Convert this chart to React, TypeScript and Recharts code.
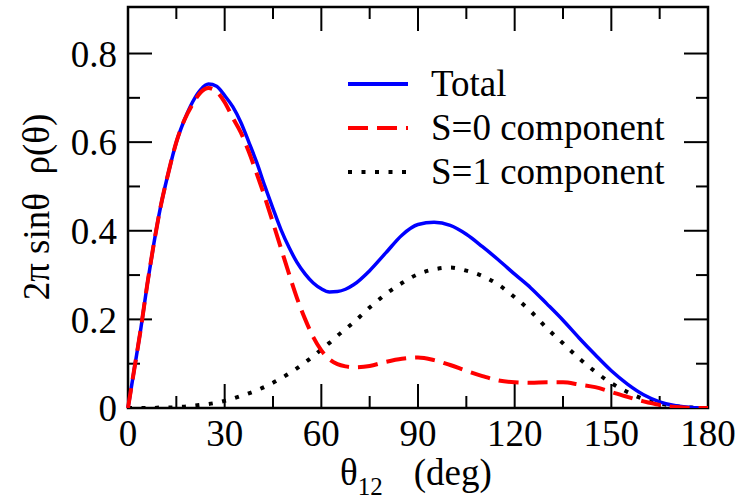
import { LineChart, Line, XAxis, YAxis, ReferenceLine, ReferenceArea } from "recharts"

// angle θ12 in degrees
const theta = [0, 2, 4, 6, 8, 10, 12.5, 15, 17.5, 20, 22.5, 25, 27.5, 30, 32.5, 35, 37.5, 40, 42.5, 45, 47.5, 50, 52.5, 55, 57.5, 60, 62.5, 65, 67.5, 70, 75, 80, 85, 90, 95, 100, 105, 110, 115, 120, 125, 130, 135, 140, 145, 150, 155, 160, 165, 170, 175, 180]

const total = [0, 0.09, 0.18, 0.28, 0.37, 0.45, 0.53, 0.6, 0.65, 0.69, 0.718, 0.731, 0.726, 0.705, 0.68, 0.645, 0.6, 0.553, 0.5, 0.45, 0.402, 0.362, 0.328, 0.302, 0.282, 0.269, 0.262, 0.263, 0.268, 0.278, 0.31, 0.35, 0.39, 0.414, 0.419, 0.412, 0.392, 0.364, 0.334, 0.302, 0.271, 0.235, 0.198, 0.158, 0.12, 0.084, 0.054, 0.03, 0.014, 0.005, 0.001, 0]

const s0 = [0, 0.09, 0.18, 0.28, 0.37, 0.45, 0.53, 0.6, 0.65, 0.685, 0.712, 0.722, 0.714, 0.69, 0.655, 0.622, 0.578, 0.528, 0.475, 0.418, 0.36, 0.302, 0.247, 0.2, 0.16, 0.13, 0.11, 0.099, 0.094, 0.092, 0.095, 0.104, 0.111, 0.114, 0.108, 0.097, 0.084, 0.072, 0.062, 0.058, 0.057, 0.058, 0.058, 0.053, 0.047, 0.036, 0.025, 0.015, 0.007, 0.002, 0, 0]

const s1 = [0, 0, 0, 0, 0, 0.001, 0.001, 0.002, 0.003, 0.005, 0.007, 0.009, 0.012, 0.016, 0.021, 0.027, 0.033, 0.04, 0.048, 0.057, 0.067, 0.078, 0.09, 0.103, 0.117, 0.132, 0.147, 0.163, 0.178, 0.193, 0.227, 0.257, 0.282, 0.302, 0.313, 0.317, 0.31, 0.298, 0.278, 0.25, 0.218, 0.18, 0.146, 0.112, 0.082, 0.056, 0.036, 0.02, 0.01, 0.004, 0.001, 0]

const xMajor = [30, 60, 90, 120, 150]
const xMinor = [15, 45, 75, 105, 135, 165]
const xLabels = [0, 30, 60, 90, 120, 150, 180]
const yMajor = [0.2, 0.4, 0.6, 0.8]
const yMinor = [0.1, 0.3, 0.5, 0.7]
const yLabels = [0, 0.2, 0.4, 0.6, 0.8]

const legendItems = [
  { name: "Total", color: "#0000ff", dash: undefined as string | undefined },
  { name: "S=0 component", color: "#ff0000", dash: "20 9" },
  { name: "S=1 component", color: "#000000", dash: "4 9.5" },
]

const data = theta.map((t, i) => ({ theta: t, total: total[i], s0: s0[i], s1: s1[i] }))

const FONT = "Liberation Serif, Times New Roman, DejaVu Serif, serif"
const FS = 37
const Y_MAX = 0.905
// tick lengths in data units (plot ~580px for 180°, ~401px for 0.905)
const PX_X = 180 / 580
const PX_Y = Y_MAX / 401
const MAJ = 24
const MIN = 12

function LegendBox() {
  return (
    <svg width={360} height={140} style={{ position: "absolute", left: 338, top: 60, fontFamily: FONT }}>
      {legendItems.map((it, i) => (
        <g key={it.name}>
          <line x1={10} x2={70} y1={24 + i * 44} y2={24 + i * 44} stroke={it.color} strokeWidth={4} strokeDasharray={it.dash} />
          <text x={93} y={24 + i * 44} dy="0.33em" fontSize={FS} style={{ fontFamily: FONT }} fill="#000">{it.name}</text>
        </g>
      ))}
    </svg>
  )
}

function XTitle() {
  return (
    <text x={340} y={485} fontSize={FS} style={{ fontFamily: FONT }} fill="#000">
      θ
      <tspan fontSize={25} dy={10}>12</tspan>
      <tspan dy={-10} dx={31}>(deg)</tspan>
    </text>
  )
}

function YTitle() {
  return (
    <text x={0} y={0} transform="translate(49, 207) rotate(-90)" textAnchor="middle" fontSize={37} style={{ fontFamily: FONT, whiteSpace: "pre" }} fill="#000">
      2π sinθ  ρ(θ)
    </text>
  )
}

export default function App() {
  const tickStyle = { fontSize: FS, fill: "#000", fontFamily: FONT, style: { fontFamily: FONT } }
  return (
    <div style={{ position: "absolute", left: 0, top: 0, width: 754, height: 503, background: "#fff", fontFamily: FONT }}>
      <LineChart width={754} height={503} data={data} margin={{ top: 7, right: 46, bottom: 0, left: 0 }} style={{ fontFamily: FONT }}>
        <XAxis
          dataKey="theta"
          type="number"
          domain={[0, 180]}
          ticks={xLabels}
          tickFormatter={(v: number) => String(v)}
          axisLine={false}
          tickLine={false}
          tickSize={0}
          tickMargin={12}
          height={95}
          tick={tickStyle}
          label={{ content: <XTitle /> }}
        />
        <YAxis
          type="number"
          domain={[0, Y_MAX]}
          allowDataOverflow
          ticks={yLabels}
          tickFormatter={(v: number) => String(v)}
          axisLine={false}
          tickLine={false}
          tickSize={0}
          tickMargin={11}
          width={128}
          tick={tickStyle}
          label={{ content: <YTitle /> }}
        />
        <ReferenceArea x1={0} x2={180} y1={0} y2={Y_MAX} fill="none" stroke="#000" strokeWidth={2.5} ifOverflow="visible" />
        {[...xMajor.map((t) => [t, MAJ]), ...xMinor.map((t) => [t, MIN])].map(([t, len]) => [
          <ReferenceLine key={"xb" + t} segment={[{ x: t, y: 0 }, { x: t, y: len * PX_Y }]} stroke="#000" strokeWidth={2} ifOverflow="visible" />,
          <ReferenceLine key={"xt" + t} segment={[{ x: t, y: Y_MAX }, { x: t, y: Y_MAX - len * PX_Y }]} stroke="#000" strokeWidth={2} ifOverflow="visible" />,
        ])}
        {[...yMajor.map((v) => [v, MAJ]), ...yMinor.map((v) => [v, MIN])].map(([v, len]) => [
          <ReferenceLine key={"yl" + v} segment={[{ x: 0, y: v }, { x: len * PX_X, y: v }]} stroke="#000" strokeWidth={2} ifOverflow="visible" />,
          <ReferenceLine key={"yr" + v} segment={[{ x: 180, y: v }, { x: 180 - len * PX_X, y: v }]} stroke="#000" strokeWidth={2} ifOverflow="visible" />,
        ])}
        <Line type="monotone" dataKey="s1" stroke="#000" strokeWidth={4} strokeDasharray="4 9.5" dot={false} isAnimationActive={false} />
        <Line type="monotone" dataKey="total" stroke="#0000ff" strokeWidth={3.5} dot={false} isAnimationActive={false} />
        <Line type="monotone" dataKey="s0" stroke="#ff0000" strokeWidth={4} strokeDasharray="20 9" dot={false} isAnimationActive={false} />
      </LineChart>
      <LegendBox />
    </div>
  )
}
